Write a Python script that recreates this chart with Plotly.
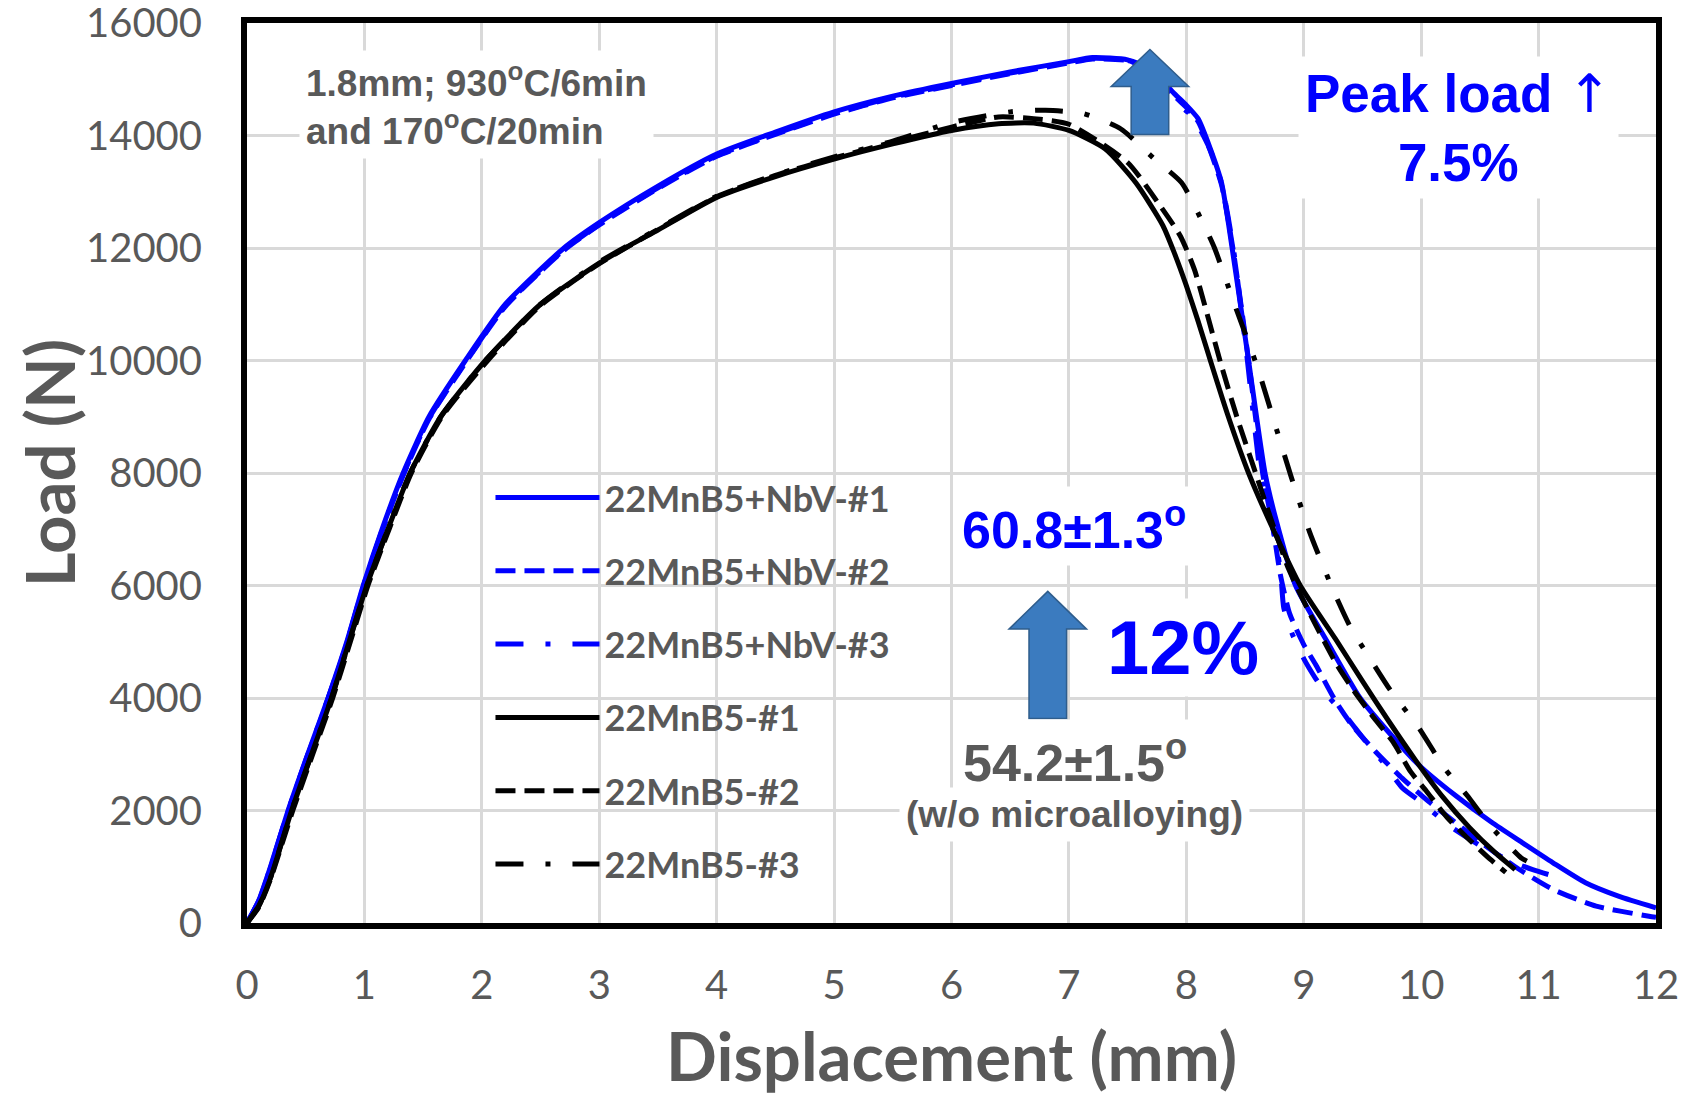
import plotly.graph_objects as go

# ---------------- data ----------------
nbv1_x = [0, 0.1, 0.2, 0.35, 0.5, 0.69, 0.85, 0.99, 1.15, 1.33, 1.55, 1.86, 2.2, 2.7, 3.0, 3.5, 4.0, 4.5, 5.0,
          5.5, 6.0, 6.5, 7.0, 7.2, 7.5, 7.7, 7.9, 8.0, 8.1, 8.2, 8.3, 8.39, 8.53, 8.67, 8.76, 8.93, 9.2, 9.48,
          9.72, 9.98, 10.29, 10.6, 10.86, 11.12, 11.4, 11.68, 12.0]
nbv1_y = [0, 400, 1000, 2000, 2900, 4000, 5000, 6000, 7000, 8000, 9000, 10000, 11000, 12000, 12450, 13100,
          13670, 14060, 14420, 14700, 14925, 15130, 15313, 15385, 15345, 15180, 14740, 14540, 14300, 13790,
          13160, 12000, 10000, 8000, 7200, 6000, 5000, 4000, 3400, 2810, 2270, 1790, 1430, 1075, 716, 478, 269]

nbv2_x = [0, 0.1, 0.2, 0.35, 0.5, 0.69, 0.85, 0.99, 1.15, 1.33, 1.55, 1.86, 2.2, 2.7, 3.0, 3.5, 4.0, 4.5, 5.0,
          5.5, 6.0, 6.5, 7.0, 7.2, 7.5, 7.7, 7.9, 8.0, 8.1, 8.2, 8.3, 8.4, 8.53, 8.65, 8.74, 8.8, 8.88, 9.0,
          9.1, 9.27, 9.41, 9.61, 9.84, 10.07, 10.29, 10.55, 10.83, 11.12, 11.49, 11.94, 12.0]
nbv2_y = [0, 390, 980, 1980, 2880, 3980, 4970, 5970, 6960, 7960, 8960, 9960, 10960, 11960, 12410, 13060,
          13630, 14020, 14380, 14670, 14890, 15100, 15290, 15360, 15330, 15150, 14700, 14500, 14250, 13750,
          13120, 11950, 10000, 8000, 7000, 6200, 5500, 4950, 4600, 3950, 3520, 3050, 2570, 2150, 1790, 1370,
          960, 600, 300, 120, 100]

nbv3_x = [0, 0.1, 0.2, 0.35, 0.5, 0.69, 0.85, 0.99, 1.15, 1.33, 1.55, 1.86, 2.2, 2.7, 3.0, 3.5, 4.0, 4.5, 5.0,
          5.5, 6.0, 6.5, 7.0, 7.2, 7.5, 7.7, 7.85, 7.95, 8.05, 8.2, 8.3, 8.4, 8.52, 8.63, 8.72, 8.8, 8.83,
          8.9, 9.0, 9.1, 9.2, 9.35, 9.5, 9.67, 9.84, 10.0, 10.24, 10.5, 10.78, 10.95, 11.15]
nbv3_y = [0, 395, 990, 1990, 2890, 3990, 4980, 5980, 6980, 7970, 8970, 9970, 10970, 11970, 12420, 13070,
          13640, 14030, 14390, 14680, 14900, 15110, 15300, 15370, 15335, 15160, 14820, 14520, 14350, 13760,
          13150, 12000, 10000, 8000, 7200, 6300, 5600, 5150, 4700, 4350, 4050, 3700, 3300, 2870, 2400, 2150,
          1730, 1380, 1080, 950, 820]

mnb1_x = [0, 0.1, 0.2, 0.38, 0.55, 0.72, 0.87, 1.02, 1.2, 1.39, 1.65, 2.03, 2.5, 3.0, 3.22, 3.5, 4.0, 4.5,
          5.0, 5.5, 6.0, 6.4, 6.7, 7.0, 7.31, 7.57, 7.8, 7.9, 8.0, 8.1, 8.2, 8.35, 8.53, 8.75, 8.97, 9.27,
          9.5, 9.72, 9.95, 10.18, 10.41, 10.63, 10.8]
mnb1_y = [0, 300, 800, 2000, 3000, 4000, 5000, 6000, 7000, 8000, 9000, 10000, 11000, 11730, 12000, 12320,
          12900, 13270, 13580, 13850, 14090, 14210, 14220, 14090, 13760, 13160, 12400, 11900, 11330, 10700,
          10030, 9050, 8000, 6950, 6000, 5050, 4300, 3600, 2900, 2250, 1700, 1250, 950]

mnb2_x = [0, 0.1, 0.2, 0.39, 0.56, 0.73, 0.88, 1.03, 1.21, 1.4, 1.66, 2.05, 2.5, 3.0, 3.5, 4.0, 4.5, 5.0,
          5.5, 6.0, 6.4, 6.7, 7.0, 7.5, 7.76, 7.95, 8.07, 8.22, 8.3, 8.43, 8.59, 8.75, 8.87, 9.04, 9.28,
          9.43, 9.6, 9.76, 9.91, 10.05, 10.22, 10.39, 10.59, 10.72]
mnb2_y = [0, 280, 780, 2000, 3000, 4000, 5000, 6000, 7000, 8000, 9000, 10000, 10980, 11720, 12330, 12910,
          13290, 13600, 13880, 14150, 14330, 14300, 14200, 13520, 12800, 12210, 11610, 10500, 9900, 9000,
          8000, 7000, 6300, 5550, 4600, 4120, 3640, 3220, 2690, 2330, 1880, 1520, 1130, 900]

mnb3_x = [0, 0.1, 0.2, 0.38, 0.55, 0.72, 0.87, 1.02, 1.2, 1.39, 1.65, 2.03, 2.5, 3.0, 3.5, 4.0, 4.5, 5.0,
          5.5, 6.0, 6.5, 6.8, 7.12, 7.44, 7.73, 7.96, 8.14, 8.24, 8.41, 8.61, 8.75, 8.89, 9.05, 9.24, 9.4,
          9.58, 9.75, 9.97, 10.2, 10.39, 10.6, 10.85, 10.9]
mnb3_y = [0, 300, 800, 2000, 3000, 4000, 5000, 6000, 7000, 8000, 9000, 10000, 11000, 11750, 12340, 12920,
          13300, 13620, 13900, 14230, 14420, 14450, 14390, 14120, 13580, 13160, 12450, 12000, 11000, 9850,
          8900, 7950, 6950, 5970, 5250, 4650, 4100, 3500, 2750, 2270, 1700, 1160, 1100]

series_names = ["22MnB5+NbV-#1", "22MnB5+NbV-#2", "22MnB5+NbV-#3", "22MnB5-#1", "22MnB5-#2", "22MnB5-#3"]
x_ticks = list(range(0, 13))
y_ticks = list(range(0, 16001, 2000))
x_title = "Displacement (mm)"
y_title = "Load (N)"

# ---------------- styles ----------------
BLUE = "#0000FF"
BLACK = "#000000"
GRAY = "#595959"
DASH = "20px,9px"
DASHDOT = "28px,22px,5px,22px"

series = [
    (nbv1_x, nbv1_y, BLUE, "solid"),
    (nbv2_x, nbv2_y, BLUE, DASH),
    (nbv3_x, nbv3_y, BLUE, DASHDOT),
    (mnb1_x, mnb1_y, BLACK, "solid"),
    (mnb2_x, mnb2_y, BLACK, DASH),
    (mnb3_x, mnb3_y, BLACK, DASHDOT),
]

fig = go.Figure()
for i, ((xs, ys, col, dash), name) in enumerate(zip(series, series_names)):
    fig.add_trace(go.Scatter(
        x=xs, y=ys, mode="lines", name=name, legendgroup=f"g{i}",
        line=dict(color=col, width=5, dash=dash, shape="spline", smoothing=0.6),
    ))

# page body has an 8px margin: figure is sized/offset so the plot area lands at
# x 247..1656, y 23..923 of the 1686x1098 window
TITLEFONT = "Lato, Open Sans, sans-serif"
TICKFONT = dict(family=TITLEFONT, size=40, color=GRAY)
fig.update_layout(
    width=1678, height=1090,
    margin=dict(l=239, r=30, t=15, b=175),
    paper_bgcolor="white", plot_bgcolor="white",
    showlegend=True,
    legend=dict(
        x=0.1728, y=0.506, xanchor="left", yanchor="top",
        bgcolor="rgba(0,0,0,0)", itemwidth=104, tracegroupgap=23.5,
        font=dict(family=TITLEFONT, size=36, color=GRAY, weight="bold"),
    ),
    xaxis=dict(
        range=[0, 12], tickvals=x_ticks, ticktext=[str(v) for v in x_ticks],
        showgrid=True, gridcolor="#D9D9D9", gridwidth=2.5,
        showline=True, linecolor="black", linewidth=6, mirror=True,
        ticks="", tickfont=TICKFONT, ticklabelstandoff=22, zeroline=False,
        ticklabeloverflow="allow", automargin=False,
    ),
    yaxis=dict(
        range=[0, 16000], tickvals=y_ticks, ticktext=[str(v) for v in y_ticks],
        showgrid=True, gridcolor="#D9D9D9", gridwidth=2.5,
        showline=True, linecolor="black", linewidth=6, mirror=True,
        ticks="", tickfont=TICKFONT, ticklabelstandoff=31, zeroline=False,
        ticklabeloverflow="allow", automargin=False,
    ),
)

# axis titles (placed as paper annotations for exact positioning)
fig.add_annotation(text=f"<b>{x_title}</b>", xref="paper", yref="paper", x=0.5, y=-0.147,
                   xanchor="center", yanchor="middle", showarrow=False, borderpad=0,
                   font=dict(family=TITLEFONT, size=67, color=GRAY))
fig.add_annotation(text=f"<b>{y_title}</b>", xref="paper", yref="paper", x=-0.1405, y=0.511,
                   xanchor="center", yanchor="middle", showarrow=False, textangle=-90, borderpad=0,
                   font=dict(family=TITLEFONT, size=67, color=GRAY))

ANN_FONT = "Liberation Sans, Arial, sans-serif"
def ann(text, x, y, size, color, xanchor="center", align="center"):
    fig.add_annotation(x=x, y=y, xref="x", yref="y", text=text, showarrow=False,
                       xanchor=xanchor, yanchor="middle", align=align,
                       bgcolor="white", borderpad=6,
                       font=dict(family=ANN_FONT, size=size, color=color, weight="bold"))

UP = "<span style='font-family:DejaVu Sans;font-weight:normal'>\u2191</span>"
ann("1.8mm; 930<sup>o</sup>C/6min<br>and 170<sup>o</sup>C/20min", 0.44, 14550, 37, GRAY, xanchor="left", align="left")
ann("Peak load " + UP + "<br>7.5%", 10.32, 14150, 53, BLUE)
ann("60.8\u00b11.3<sup>o</sup>", 7.04, 7063, 52, BLUE)
ann("12%", 7.97, 4900, 76, BLUE)
ann("54.2\u00b11.5<sup>o</sup>", 7.05, 2920, 52, GRAY)
ann("(w/o microalloying)", 7.05, 1924, 37, GRAY)

# block arrows (centre x, tip y, head base y, head half width, shaft half width, bottom y)
def block_arrow(cx, tip, base, hw, sw, bottom):
    path = (f"M{cx - sw},{bottom} L{cx - sw},{base} L{cx - hw},{base} L{cx},{tip} "
            f"L{cx + hw},{base} L{cx + sw},{base} L{cx + sw},{bottom} Z")
    fig.add_shape(type="path", path=path, xref="x", yref="y", layer="above",
                  fillcolor="#3B7BBF", line=dict(color="#2F5D8C", width=1.5))

block_arrow(7.69, 15530, 14870, 0.33, 0.16, 14020)
block_arrow(6.82, 5895, 5225, 0.33, 0.16, 3637)

fig.write_html("out.html")
